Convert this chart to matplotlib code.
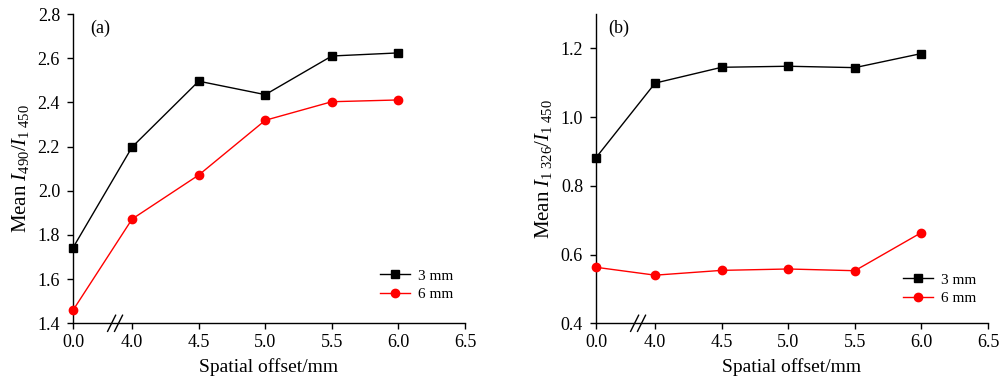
"""Two-panel line chart with a broken x axis (spatial offset)."""
import matplotlib.pyplot as plt
import matplotlib.transforms as mtransforms

plt.rcParams['font.family'] = 'Liberation Serif'
plt.rcParams['mathtext.fontset'] = 'custom'
plt.rcParams['mathtext.rm'] = 'Liberation Serif'
plt.rcParams['mathtext.it'] = 'Liberation Serif:italic'

# data
offsets = [0.0, 4.0, 4.5, 5.0, 5.5, 6.0]
tick_vals = [0.0, 4.0, 4.5, 5.0, 5.5, 6.0, 6.5]
tick_labels = ['0.0', '4.0', '4.5', '5.0', '5.5', '6.0', '6.5']

a_3mm = [1.742, 2.198, 2.496, 2.435, 2.610, 2.624]
a_6mm = [1.459, 1.872, 2.071, 2.319, 2.403, 2.411]
b_3mm = [0.882, 1.099, 1.145, 1.148, 1.144, 1.185]
b_6mm = [0.563, 0.540, 0.554, 0.558, 0.553, 0.664]

GAP = 0.444  # plotted distance between 0.0 and 4.0
BREAK_AT = 0.316


def xpos(v):
    return v if v == 0 else v - 4.0 + GAP


fig = plt.figure(figsize=(10, 3.79), dpi=100)
ax_a = fig.add_axes([0.073, 0.147, 0.392, 0.816])
ax_b = fig.add_axes([0.596, 0.147, 0.392, 0.816])

panels = [
    (ax_a, a_3mm, a_6mm, (1.4, 2.8), [1.4 + 0.2 * i for i in range(8)],
     r'Mean $I_{490}/I_{1\ 450}$', '(a)', 0.043, 0.072),
    (ax_b, b_3mm, b_6mm, (0.4, 1.3), [0.4, 0.6, 0.8, 1.0, 1.2],
     r'Mean $I_{1\ 326}/I_{1\ 450}$', '(b)', 0.031, 0.059),
]

for ax, s3, s6, ylim, yticks, ylabel, tag, tag_x, leg_y in panels:
    xs = [xpos(v) for v in offsets]
    ax.plot(xs, s3, color='black', lw=1.0, marker='s', ms=5.2, label='3 mm',
            clip_on=False, zorder=3)
    ax.plot(xs, s6, color='#ff0000', lw=1.0, marker='o', ms=6, label='6 mm',
            clip_on=False, zorder=3)

    ax.set_xlim(0, xpos(6.5))
    ax.set_ylim(*ylim)
    ax.set_xticks([xpos(v) for v in tick_vals])
    ax.set_xticklabels(tick_labels)
    ax.set_yticks(yticks)
    ax.set_yticklabels([f'{v:.1f}' for v in yticks])
    ax.tick_params(direction='out', length=4.3, width=1, labelsize=13)
    ax.tick_params(axis='x', pad=3.5)
    ax.tick_params(axis='y', pad=5)

    for s in ('top', 'right'):
        ax.spines[s].set_visible(False)
    for s in ('left', 'bottom'):
        ax.spines[s].set_linewidth(1.0)

    ax.set_xlabel('Spatial offset/mm', fontsize=14, labelpad=5)
    ax.set_ylabel(ylabel, fontsize=15, labelpad=5)
    ax.text(tag_x, 0.955, tag, transform=ax.transAxes, fontsize=13,
            ha='left', va='center')

    ax.legend(loc='lower left', bbox_to_anchor=(0.783, leg_y), frameon=False,
              fontsize=11, handlelength=2.0, handletextpad=0.5,
              labelspacing=0.3, borderaxespad=0, borderpad=0)

    # axis break mark "//"
    trans = mtransforms.blended_transform_factory(ax.transData, ax.transAxes)
    for dx in (-0.026, 0.026):
        ax.plot([BREAK_AT + dx - 0.03, BREAK_AT + dx + 0.03], [-0.026, 0.026],
                color='black', lw=1.0, transform=trans, clip_on=False)

fig.savefig('out.png', dpi=100)
plt.close()
